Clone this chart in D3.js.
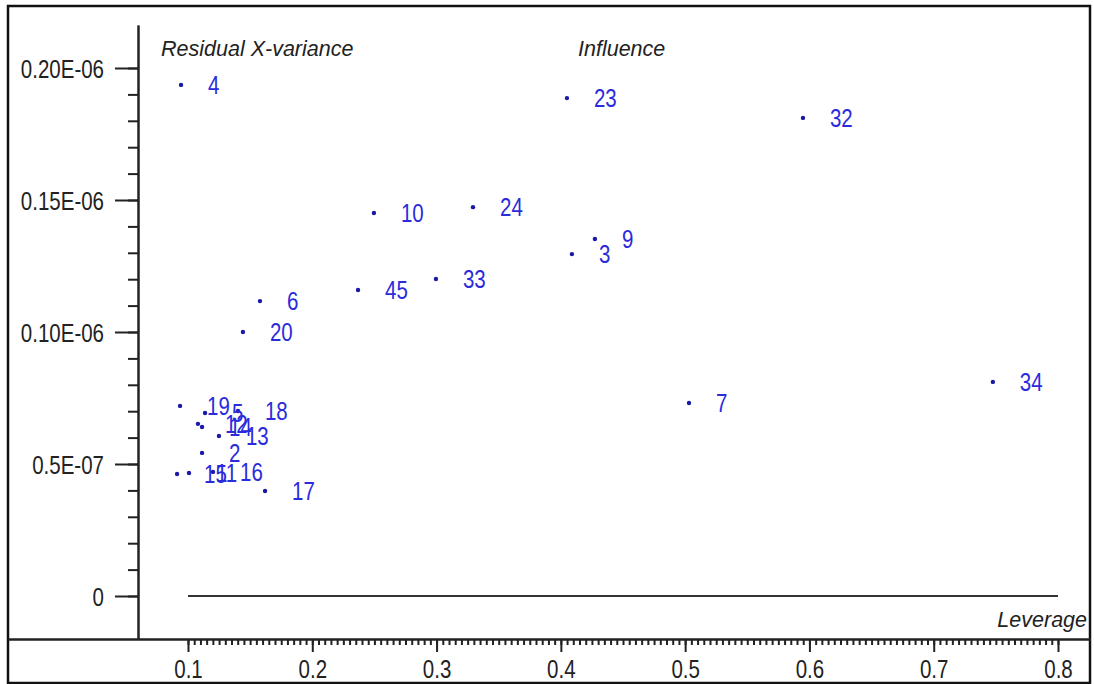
<!DOCTYPE html>
<html>
<head>
<meta charset="utf-8">
<script src="https://cdn.jsdelivr.net/npm/d3@7"></script>
<style>
  body { margin: 0; background: #fff; }
  .narrow { font-family: "Liberation Sans", Arial, sans-serif; font-size: 25px; }
  .title { font-family: "Liberation Sans", Arial, sans-serif; font-size: 21.5px; font-style: italic; fill: #222; }
</style>
</head>
<body>
<svg id="chart" width="1094" height="684"></svg>
<script>
// point labels (sample numbers)
var labels = ["4","23","32","10","24","9","3","33","45","6","20","7","34",
              "19","5","18","12","14","13","2","15","11","16","17"];
// leverage (x)
var leverage = [0.0944,0.4049,0.5948,0.2496,0.3293,0.4274,0.4089,0.2995,0.2368,0.1579,0.1442,0.5031,0.7476,
                0.0936,0.1137,0.1402,0.1080,0.1113,0.1249,0.1113,0.0912,0.1008,0.1201,0.1620];
// residual X-variance (y)
var residual = [1.936e-7,1.886e-7,1.811e-7,1.451e-7,1.473e-7,1.352e-7,1.295e-7,1.201e-7,1.159e-7,1.117e-7,1.000e-7,0.731e-7,0.811e-7,
                0.720e-7,0.693e-7,0.701e-7,0.652e-7,0.640e-7,0.606e-7,0.542e-7,0.462e-7,0.466e-7,0.470e-7,0.398e-7];

var xTicks = [0.1,0.2,0.3,0.4,0.5,0.6,0.7,0.8];
var xTickLabels = ["0.1","0.2","0.3","0.4","0.5","0.6","0.7","0.8"];
var yTicks = [0, 0.5e-7, 1.0e-7, 1.5e-7, 2.0e-7];
var yTickLabels = ["0","0.5E-07","0.10E-06","0.15E-06","0.20E-06"];

var squeeze = 0.82; // the original uses a narrow face, fake it with a horizontal scale

var svg = d3.select("#chart");

// frame
svg.append("rect")
    .attr("x", 8).attr("y", 6)
    .attr("width", 1082).attr("height", 677)
    .attr("fill", "none")
    .attr("stroke", "#111")
    .attr("stroke-width", 2.5);

var x0 = d3.scaleLinear().domain([0.1, 0.8]).range([188, 1058]);
var y0 = d3.scaleLinear().domain([0, 2e-7]).range([596, 68]);

// stretch scales so the axis lines run to the frame / top
var x = d3.scaleLinear().domain([x0.invert(8), x0.invert(1090)]).range([8, 1090]);
var y = d3.scaleLinear().domain([y0.invert(639), y0.invert(25)]).range([639, 25]);

var xMinor = d3.range(0, 141).map(function(i){ return 0.1 + i*0.005; });
var yMinor = d3.range(0, 21).map(function(i){ return i*0.1e-7; });

// x axis
var gx = svg.append("g").attr("transform", "translate(0,639)");
gx.call(d3.axisBottom(x).tickValues(xMinor).tickSize(6).tickSizeOuter(0).tickFormat(""));
gx.append("g").call(d3.axisBottom(x).tickValues(xTicks).tickSize(13).tickSizeOuter(0)
    .tickFormat(function(d,i){ return xTickLabels[i]; }));
gx.selectAll("path, line").attr("stroke", "#222").attr("stroke-width", 2);
gx.selectAll("text").attr("class", "narrow").attr("fill", "#222")
    .attr("y", 0).attr("dy", 39)
    .attr("transform", "scale(" + squeeze + ",1)");

// y axis
var gy = svg.append("g").attr("transform", "translate(138,0)");
gy.call(d3.axisLeft(y).tickValues(yMinor).tickSize(10).tickSizeOuter(0).tickFormat(""));
gy.append("g").call(d3.axisLeft(y).tickValues(yTicks).tickSize(23).tickSizeOuter(0)
    .tickFormat(function(d,i){ return yTickLabels[i]; }));
gy.selectAll("path, line").attr("stroke", "#222").attr("stroke-width", 2);
gy.selectAll("text").attr("class", "narrow").attr("fill", "#222")
    .attr("x", -34 / squeeze).attr("dy", "0.36em")
    .attr("transform", "scale(" + squeeze + ",1)");

// zero line
svg.append("line")
    .attr("x1", x(0.1)).attr("x2", x(0.8))
    .attr("y1", y(0)).attr("y2", y(0))
    .attr("stroke", "#333").attr("stroke-width", 2);

// points
var pts = svg.append("g");
pts.selectAll("circle")
    .data(labels)
    .enter()
    .append("circle")
    .attr("cx", function(d,i){ return x(leverage[i]); })
    .attr("cy", function(d,i){ return y(residual[i]); })
    .attr("r", 2.2)
    .attr("fill", "#1a1aa8");

pts.selectAll("text")
    .data(labels)
    .enter()
    .append("text")
    .attr("class", "narrow")
    .attr("transform", function(d,i){
        return "translate(" + (x(leverage[i]) + 27) + "," + y(residual[i]) + ") scale(" + squeeze + ",1)";
    })
    .attr("dy", "0.36em")
    .attr("fill", "#2b2bdc")
    .text(function(d){ return d; });

// corner titles
svg.append("text").attr("class", "title").attr("x", 161).attr("y", 56).text("Residual X-variance");
svg.append("text").attr("class", "title").attr("x", 578).attr("y", 56).text("Influence");
svg.append("text").attr("class", "title").attr("x", 1087).attr("y", 627)
    .attr("text-anchor", "end").text("Leverage");
</script>
</body>
</html>
